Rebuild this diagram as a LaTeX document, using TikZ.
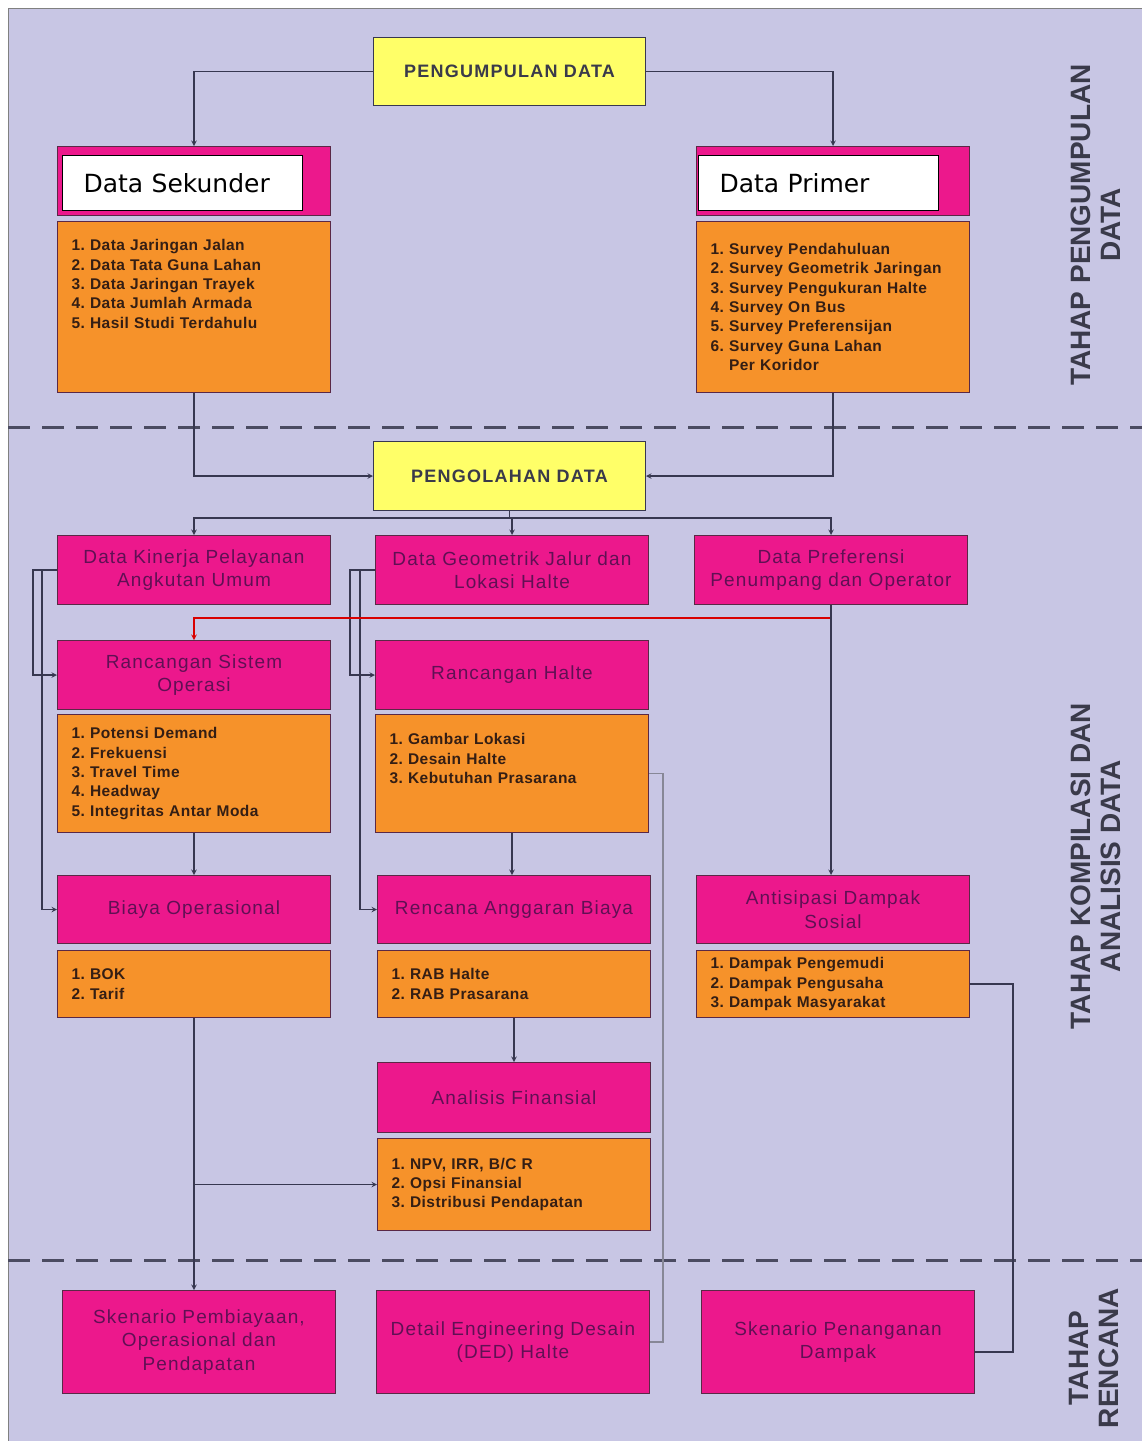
\documentclass[tikz,border=0pt]{standalone}
\usepackage{fontspec}
\setmainfont{Liberation Sans}
\newfontfamily\hdfont[LetterSpace=6]{Liberation Sans}
\newfontfamily\lsfont[LetterSpace=3]{Liberation Sans}
\newfontfamily\ybfont[LetterSpace=7]{Liberation Sans}
\newfontfamily\wbfont{DejaVu Sans}
\usetikzlibrary{arrows,calc}
\definecolor{bgl}{RGB}{200,198,228}
\definecolor{pinkh}{RGB}{236,24,140}
\definecolor{orl}{RGB}{246,146,42}
\definecolor{yel}{RGB}{255,255,104}
\definecolor{lnc}{RGB}{55,55,80}
\definecolor{bdr}{RGB}{90,40,70}
\definecolor{hdtxt}{RGB}{96,16,84}
\definecolor{lstxt}{RGB}{52,30,20}
\definecolor{sidetxt}{RGB}{58,58,74}

\begin{document}
\begin{tikzpicture}[>=stealth, x=1pt, y=-1pt,
    hd/.style={draw=bdr, line width=1pt, fill=pinkh, text=hdtxt, anchor=north west,
               text width=263pt, inner xsep=5pt, minimum height=#1, align=center,
               font=\hdfont\fontsize{19}{23.5}\selectfont},
    hd/.default=69pt,
    ls/.style={draw=bdr, line width=1pt, fill=orl, text=lstxt, anchor=north west,
               text width=245pt, inner xsep=14pt, minimum height=#1, align=left,
               font=\lsfont\bfseries\fontsize{15.5}{19.4}\selectfont},
    yb/.style={draw=lnc, line width=1pt, fill=yel, text=sidetxt, anchor=north west,
               minimum width=272pt, minimum height=68pt,
               font=\ybfont\bfseries\fontsize{18}{22}\selectfont},
    wb/.style={draw=black, line width=1.2pt, fill=white, anchor=north west,
               text width=198pt, inner xsep=21pt, minimum height=55pt, align=left,
               font=\wbfont\fontsize{25}{28}\selectfont},
    side/.style={text=sidetxt, align=center, rotate=90,
                 font=\bfseries\fontsize{28}{30}\selectfont},
    ln/.style={draw=lnc, line width=1.4pt},
    gln/.style={draw=lnc!60, line width=1.4pt},
    redln/.style={draw=red!85!black, line width=1.4pt},
    sepline/.style={draw=lnc!90, line width=3pt, dash pattern=on 22pt off 12pt}]

  % background
  \useasboundingbox (0,0) rectangle (1142,1441);
  \fill[bgl] (8,8) rectangle (1142,1441);
  \draw[gray, line width=1pt] (8,1441) -- (8,8) -- (1142,8);
  \draw[sepline] (8,427) -- (1142,427);
  \draw[sepline] (8,1260) -- (1142,1260);

  % phase labels
  \node[side] (phase1) at (1096,225) {TAHAP PENGUMPULAN\\DATA};
  \node[side] (phase2) at (1096,866) {TAHAP KOMPILASI DAN\\ANALISIS DATA};
  \node[side] (phase3) at (1094,1358) {TAHAP\\RENCANA};

  % data collection
  \node[yb] (pengumpulan) at (373,37) {PENGUMPULAN DATA};
  \node[hd] (sekunder) at (57,146) {};
  \node[wb] (sekw) at (62,155) {Data Sekunder};
  \node[ls=171pt] (seklist) at (57,221) {1.\ Data Jaringan Jalan\\2.\ Data Tata Guna Lahan\\3.\ Data Jaringan Trayek\\4.\ Data Jumlah Armada\\5.\ Hasil Studi Terdahulu\\[27pt]~};
  \node[hd] (primer) at (696,146) {};
  \node[wb] (primw) at (698,155) {Data Primer};
  \node[ls=171pt] (primlist) at (696,221) {1.\ Survey Pendahuluan\\2.\ Survey Geometrik Jaringan\\3.\ Survey Pengukuran Halte\\4.\ Survey On Bus\\5.\ Survey Preferensijan\\6.\ Survey Guna Lahan\\\phantom{6.}\ Per Koridor};

  % processing
  \node[yb, minimum height=69pt] (pengolahan) at (373,441) {PENGOLAHAN DATA};
  \node[hd] (kinerja) at (57,535) {Data Kinerja Pelayanan\\Angkutan Umum};
  \node[hd] (geometrik) at (375,535) {Data Geometrik Jalur dan\\Lokasi Halte};
  \node[hd] (preferensi) at (694,535) {Data Preferensi\\Penumpang dan Operator};

  \node[hd] (rso) at (57,640) {Rancangan Sistem\\Operasi};
  \node[ls=118pt] (rsolist) at (57,714) {1.\ Potensi Demand\\2.\ Frekuensi\\3.\ Travel Time\\4.\ Headway\\5.\ Integritas Antar Moda};
  \node[hd] (rhalte) at (375,640) {Rancangan Halte};
  \node[ls=118pt] (rhaltelist) at (375,714) {1.\ Gambar Lokasi\\2.\ Desain Halte\\3.\ Kebutuhan Prasarana\\[10.5pt]~};

  \node[hd=68pt] (biaya) at (57,875) {Biaya Operasional};
  \node[ls=67pt] (biayalist) at (57,950) {1.\ BOK\\2.\ Tarif};
  \node[hd=68pt] (rab) at (377,875) {Rencana Anggaran Biaya};
  \node[ls=67pt] (rablist) at (377,950) {1.\ RAB Halte\\2.\ RAB Prasarana};
  \node[hd=68pt] (antisipasi) at (696,875) {Antisipasi Dampak\\Sosial};
  \node[ls=67pt] (antlist) at (696,950) {1.\ Dampak Pengemudi\\2.\ Dampak Pengusaha\\3.\ Dampak Masyarakat};

  \node[hd=70pt] (analisis) at (377,1062) {Analisis Finansial};
  \node[ls=92pt] (anlist) at (377,1138) {1.\ NPV, IRR, B/C R\\2.\ Opsi Finansial\\3.\ Distribusi Pendapatan};

  % plans
  \node[hd=103pt] (sken1) at (62,1290) {Skenario Pembiayaan,\\Operasional dan\\Pendapatan};
  \node[hd=103pt] (ded) at (376,1290) {Detail Engineering Desain\\(DED) Halte};
  \node[hd=103pt] (sken3) at (701,1290) {Skenario Penanganan\\Dampak};

  % connectors
  \draw[ln,->] (pengumpulan.west) -| (sekunder.north);
  \draw[ln,->] (pengumpulan.east) -| (primer.north);
  \draw[ln,->] (seklist.south) |- (pengolahan.west);
  \draw[ln,->] (primlist.south) |- (pengolahan.east);
  \coordinate (split) at ($(pengolahan.south)+(0,7)$);
  \draw[ln] (pengolahan.south) -- (split);
  \foreach \n in {kinerja,geometrik,preferensi}
    \draw[ln,->] (split) -| (\n.north);

  \draw[ln,->] (kinerja.west) -- ++(-24,0) |- (rso.west);
  \draw[ln,->] (kinerja.west) -- ++(-15,0) |- (biaya.west);
  \draw[ln,->] (geometrik.west) -- ++(-25,0) |- (rhalte.west);
  \draw[ln,->] (geometrik.west) -- ++(-15,0) |- (rab.west);
  \draw[redln,->] ($(preferensi.south)+(0,13)$) -| (rso.north);
  \draw[ln,->] (preferensi.south) -- (preferensi.south |- antisipasi.north);

  \draw[ln,->] (rsolist.south) -- (biaya.north);
  \draw[ln,->] (rhaltelist.south) -- (rhaltelist.south |- rab.north);
  \draw[ln,->] (rablist.south) -- (analisis.north);
  \draw[ln,->] (biayalist.south) -- (biayalist.south |- sken1.north);
  \draw[ln,->] (biayalist.south |- anlist.west) -- (anlist.west);
  \draw[gln] (rhaltelist.east) -- ++(14,0) |- (ded.east);
  \draw[ln] (antlist.east) -- ++(43,0) |- ($(sken3.east)+(0,10)$);
\end{tikzpicture}
\end{document}
